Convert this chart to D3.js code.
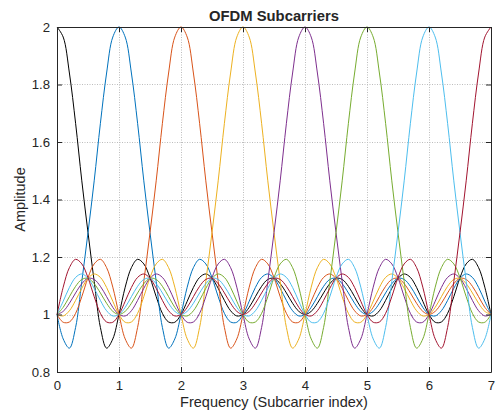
<!DOCTYPE html>
<html>
<head>
<meta charset="utf-8">
<title>OFDM Subcarriers</title>
<script src="https://cdn.jsdelivr.net/npm/d3@7"></script>
<style>
body { margin: 0; background: #fff; }
#ofdm-chart text { font-family: "Liberation Sans", Arial, sans-serif; fill: #262626; }
</style>
</head>
<body>
<div id="ofdm-chart"></div>
<script>

// frequency grid, in subcarrier index units
var frequency = [0, 0.1, 0.2, 0.3, 0.4, 0.5, 0.6, 0.7, 0.8, 0.9,
	1, 1.1, 1.2, 1.3, 1.4, 1.5, 1.6, 1.7, 1.8, 1.9,
	2, 2.1, 2.2, 2.3, 2.4, 2.5, 2.6, 2.7, 2.8, 2.9,
	3, 3.1, 3.2, 3.3, 3.4, 3.5, 3.6, 3.7, 3.8, 3.9,
	4, 4.1, 4.2, 4.3, 4.4, 4.5, 4.6, 4.7, 4.8, 4.9,
	5, 5.1, 5.2, 5.3, 5.4, 5.5, 5.6, 5.7, 5.8, 5.9,
	6, 6.1, 6.2, 6.3, 6.4, 6.5, 6.6, 6.7, 6.8, 6.9, 7];

// amplitude of one subcarrier against its distance from its own centre
// (0, 0.1, ... 7 subcarriers away)
var pulseAmplitude = [2, 1.965, 1.84, 1.665, 1.465, 1.285, 1.115, 0.955, 0.883, 0.915,
	1, 1.095, 1.163, 1.192, 1.176, 1.128, 1.062, 1.004, 0.974, 0.973,
	1, 1.046, 1.094, 1.129, 1.141, 1.126, 1.091, 1.049, 1.013, 0.995,
	1, 1.025, 1.062, 1.098, 1.122, 1.126, 1.107, 1.075, 1.039, 1.011,
	1, 1.011, 1.039, 1.075, 1.107, 1.126, 1.122, 1.098, 1.062, 1.025,
	1, 0.995, 1.013, 1.049, 1.091, 1.126, 1.141, 1.129, 1.094, 1.046,
	1, 0.973, 0.974, 1.004, 1.062, 1.128, 1.176, 1.192, 1.163, 1.095, 1];

var subcarriers = [0, 1, 2, 3, 4, 5, 6, 7];
var subcarrierColors = ["#000000", "#0072BD", "#D95319", "#EDB120",
	"#7E2F8E", "#77AC30", "#4DBEEE", "#A2142F"];

var xTicks = [0, 1, 2, 3, 4, 5, 6, 7];
var yTicks = [0.8, 1, 1.2, 1.4, 1.6, 1.8, 2];


/*
 *  SubcarrierChart - Object constructor function
 *  @param _parentId  -- id of the div that holds the chart
 */

SubcarrierChart = function(_parentId) {
	var self = this;
	self.parentId = _parentId;
	self.initVis();
}


/*
 *  Initialize svg, scales and axes
 */

SubcarrierChart.prototype.initVis = function() {
	var self = this;
	self.margin = {top: 27, right: 5, bottom: 45, left: 57};
	self.svgWidth = 496;
	self.svgHeight = 417;
	self.width = self.svgWidth - self.margin.left - self.margin.right;
	self.height = self.svgHeight - self.margin.top - self.margin.bottom;

	self.svg = d3.select(self.parentId).append("svg")
		.attr("width", self.svgWidth)
		.attr("height", self.svgHeight);

	self.g = self.svg.append("g")
		.attr("transform", "translate(" + self.margin.left + "," + self.margin.top + ")");

	self.x = d3.scaleLinear().domain([0, 7]).range([0, self.width]);
	self.y = d3.scaleLinear().domain([0.8, 2]).range([self.height, 0]);

	// dotted grid
	var grid = self.g.append("g").attr("class", "grid")
		.attr("stroke", "#bdbdbd")
		.attr("stroke-width", 1)
		.attr("stroke-dasharray", "1,1.5");

	grid.selectAll(".vgrid").data(xTicks.slice(1, -1)).enter().append("line")
		.attr("class", "vgrid")
		.attr("x1", function(d) { return Math.round(self.x(d)) + 0.5; })
		.attr("x2", function(d) { return Math.round(self.x(d)) + 0.5; })
		.attr("y1", 0)
		.attr("y2", self.height);

	grid.selectAll(".hgrid").data(yTicks.slice(1, -1)).enter().append("line")
		.attr("class", "hgrid")
		.attr("y1", function(d) { return Math.round(self.y(d)) + 0.5; })
		.attr("y2", function(d) { return Math.round(self.y(d)) + 0.5; })
		.attr("x1", 0)
		.attr("x2", self.width);

	self.lineGroup = self.g.append("g").attr("class", "subcarriers");

	// box with inward ticks on all four sides
	var fmt = function(d) { return d3.format("~g")(d); };

	self.g.append("g")
		.attr("transform", "translate(0," + self.height + ")")
		.call(d3.axisBottom(self.x).tickValues(xTicks).tickFormat(fmt).tickSizeInner(-5).tickSizeOuter(0).tickPadding(8.5));

	self.g.append("g")
		.call(d3.axisLeft(self.y).tickValues(yTicks).tickFormat(fmt).tickSizeInner(-5).tickSizeOuter(0).tickPadding(7));

	self.g.append("g")
		.call(d3.axisTop(self.x).tickValues(xTicks).tickFormat("").tickSizeInner(-5).tickSizeOuter(0));

	self.g.append("g")
		.attr("transform", "translate(" + self.width + ",0)")
		.call(d3.axisRight(self.y).tickValues(yTicks).tickFormat("").tickSizeInner(-5).tickSizeOuter(0));

	self.g.selectAll(".domain, .tick line").attr("stroke", "#262626");
	self.g.selectAll(".tick text").attr("font-size", "13.2px").attr("fill", "#262626");

	// title and axis labels
	self.svg.append("text")
		.attr("x", self.margin.left + self.width / 2)
		.attr("y", 21)
		.attr("text-anchor", "middle")
		.attr("font-size", "14.8px")
		.attr("font-weight", "bold")
		.attr("fill", "#000")
		.text("OFDM Subcarriers");

	self.svg.append("text")
		.attr("x", self.margin.left + self.width / 2)
		.attr("y", 407)
		.attr("text-anchor", "middle")
		.attr("font-size", "14.5px")
		.text("Frequency (Subcarrier index)");

	self.svg.append("text")
		.attr("transform", "translate(25," + (self.margin.top + self.height / 2) + ") rotate(-90)")
		.attr("text-anchor", "middle")
		.attr("font-size", "14.5px")
		.text("Amplitude");

	self.wrangleData();
}


/*
 *  Data wrangling: shift the pulse to each subcarrier centre
 */

SubcarrierChart.prototype.wrangleData = function() {
	var self = this;

	self.displayData = subcarriers.map(function(k, i) {
		return {
			index: k,
			color: subcarrierColors[i],
			values: frequency.map(function(f, j) {
				return {f: f, amp: pulseAmplitude[Math.abs(j - 10 * k)]};
			})
		};
	});

	self.updateVis();
}


/*
 *  The drawing function
 */

SubcarrierChart.prototype.updateVis = function() {
	var self = this;

	var line = d3.line()
		.x(function(d) { return self.x(d.f); })
		.y(function(d) { return self.y(d.amp); })
		.curve(d3.curveCatmullRom.alpha(0.5));

	self.lineGroup.selectAll("path")
		.data(self.displayData)
		.enter().append("path")
		.attr("fill", "none")
		.attr("stroke", function(d) { return d.color; })
		.attr("stroke-width", 1)
		.attr("d", function(d) { return line(d.values); });
}

var chart = new SubcarrierChart("#ofdm-chart");

</script>
</body>
</html>
